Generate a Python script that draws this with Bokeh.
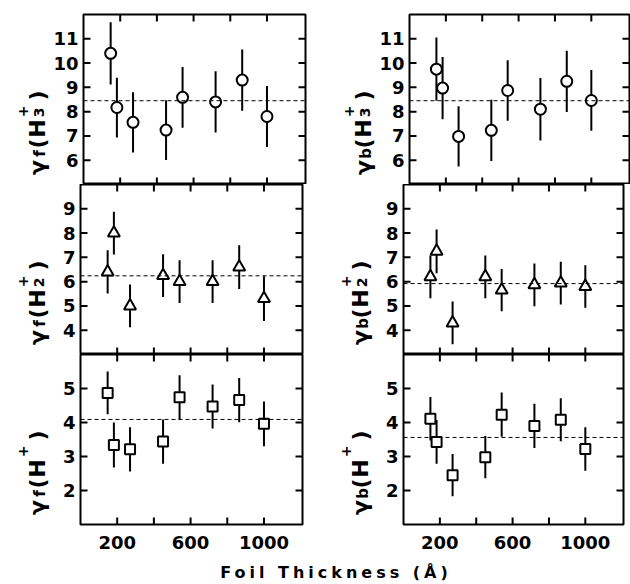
import math
from bokeh.plotting import figure
from bokeh.models import Label, FixedTicker, LinearAxis, Span, Div, Range1d, ColumnDataSource
from bokeh.layouts import column, row
from bokeh.embed import file_html
from bokeh.resources import INLINE

# ---------------- data ----------------
thickness = [148, 182, 270, 450, 540, 720, 865, 1000]   # Foil thickness (Å)

gf_h3 = [10.4, 8.17, 7.56, 7.24, 8.59, 8.4, 9.3, 7.8]
gf_h3_err = [1.28, 1.23, 1.24, 1.23, 1.25, 1.26, 1.26, 1.26]
gb_h3 = [9.75, 8.97, 6.98, 7.23, 8.87, 8.1, 9.25, 8.46]
gb_h3_err = [1.30, 1.28, 1.24, 1.26, 1.25, 1.29, 1.26, 1.25]

gf_h2 = [6.4, 8.0, 5.0, 6.25, 6.0, 6.0, 6.6, 5.3]
gf_h2_err = [0.89, 0.88, 0.88, 0.88, 0.88, 0.88, 0.90, 0.92]
gb_h2 = [6.2, 7.25, 4.3, 6.2, 5.65, 5.87, 5.94, 5.8]
gb_h2_err = [0.88, 0.90, 0.88, 0.88, 0.87, 0.88, 0.88, 0.88]

gf_h1 = [4.87, 3.34, 3.21, 3.44, 4.74, 4.47, 4.66, 3.96]
gf_h1_err = [0.63, 0.66, 0.65, 0.65, 0.65, 0.65, 0.65, 0.66]
gb_h1 = [4.11, 3.43, 2.45, 2.98, 4.23, 3.90, 4.08, 3.22]
gb_h1_err = [0.64, 0.64, 0.62, 0.62, 0.65, 0.65, 0.63, 0.64]

mean_f_h3, mean_b_h3 = 8.45, 8.45
mean_f_h2, mean_b_h2 = 6.24, 5.92
mean_f_h1, mean_b_h1 = 4.09, 3.56

x_ticks = [200, 600, 1000]
x_minor_ticks = [400, 800]
x_title = "Foil Thickness (Å)"

FONT = "DejaVu Sans"
FRAME_H = 170
TOP = 14
BOTTOM = 35


def label_axis(ticks, standoff):
    ax = LinearAxis(ticker=FixedTicker(ticks=ticks, minor_ticks=[]))
    ax.axis_line_color = None
    ax.major_tick_in = 0
    ax.major_tick_out = 0
    ax.minor_tick_in = 0
    ax.minor_tick_out = 0
    ax.major_label_text_font = FONT
    ax.major_label_text_font_style = "bold"
    ax.major_label_text_font_size = "18px"
    ax.major_label_text_color = "black"
    ax.major_label_standoff = standoff
    return ax


def make_panel(col, rw, yr, yticks, ys, errs, mean, marker, msize):
    fw = 222 if col == 0 else 220
    xr = (0, 1210)
    p = figure(frame_width=fw, frame_height=FRAME_H,
               x_range=Range1d(*xr), y_range=Range1d(*yr),
               min_border_left=30, min_border_right=21 if col == 0 else 2,
               min_border_top=TOP if rw == 0 else 0,
               min_border_bottom=BOTTOM if rw == 2 else 0,
               toolbar_location=None, output_backend="svg",
               x_axis_location=None, y_axis_location=None)
    p.grid.visible = False
    p.outline_line_color = "black"
    p.outline_line_width = 2
    p.background_fill_color = "white"
    p.border_fill_color = "white"

    p.add_layout(label_axis(yticks, 5), "left")
    if rw == 2:
        p.add_layout(label_axis(x_ticks, 11), "below")

    # inward tick marks on all four sides (dash markers clipped by the frame)
    xt = x_ticks + x_minor_ticks
    tk = dict(marker="dash", size=14, line_width=2, line_color="black")
    p.scatter(x=xt, y=[yr[0]] * len(xt), angle=math.pi / 2, **tk)
    p.scatter(x=xt, y=[yr[1]] * len(xt), angle=math.pi / 2, **tk)
    p.scatter(x=[xr[0]] * len(yticks), y=yticks, **tk)
    p.scatter(x=[xr[1]] * len(yticks), y=yticks, **tk)

    p.add_layout(Span(location=mean, dimension="width", line_dash="4 3",
                      line_width=1, line_color="black"))

    src = ColumnDataSource(dict(
        x=thickness, y=ys,
        lo=[v - e for v, e in zip(ys, errs)],
        hi=[v + e for v, e in zip(ys, errs)]))
    p.segment(x0="x", y0="lo", x1="x", y1="hi", source=src,
              line_width=2, line_color="black")
    p.scatter(x="x", y="y", source=src, marker=marker, size=msize,
              fill_color="white", line_color="black", line_width=2)
    return p


def make_label(rw, sym_sub, ion_sub):
    """Narrow figure holding the rotated composite label  γ_sym(H_ion^+)."""
    w = 50
    p = figure(frame_width=w, frame_height=FRAME_H,
               x_range=Range1d(0, w), y_range=Range1d(0, FRAME_H),
               min_border_left=0, min_border_right=0,
               min_border_top=TOP if rw == 0 else 0,
               min_border_bottom=BOTTOM if rw == 2 else 0,
               toolbar_location=None, output_backend="svg",
               x_axis_location=None, y_axis_location=None)
    p.grid.visible = False
    p.outline_line_color = None
    p.background_fill_color = "white"
    p.border_fill_color = "white"
    base = 37
    pieces = [
        (")", 81, 0, "22px"),
        ("+", 97, -15, "14px"),
        ("H", 114, 0, "22px"),
        ("(", 129, 0, "22px"),
        (sym_sub, 139, 2, "15px"),
        ("γ", 153, 0, "22px"),
    ]
    if ion_sub:
        pieces.append((ion_sub, 98, 1, "14px"))
    for txt, off, dx, fs in pieces:
        p.add_layout(Label(x=base + dx, y=FRAME_H - off, x_units="data", y_units="data",
                           angle=math.pi / 2,
                           text=txt, text_align="center", text_baseline="alphabetic",
                           text_font=FONT, text_font_style="bold",
                           text_font_size=fs, text_color="black"))
    return p


rows = []
specs = [
    ((5, 12), [6, 7, 8, 9, 10, 11], (gf_h3, gf_h3_err, mean_f_h3), (gb_h3, gb_h3_err, mean_b_h3), "circle", 11, "3"),
    ((3, 10), [4, 5, 6, 7, 8, 9], (gf_h2, gf_h2_err, mean_f_h2), (gb_h2, gb_h2_err, mean_b_h2), "triangle", 12, "2"),
    ((1, 6), [2, 3, 4, 5], (gf_h1, gf_h1_err, mean_f_h1), (gb_h1, gb_h1_err, mean_b_h1), "square", 10, ""),
]
for rw, (yr, yt, fdat, bdat, mk, ms, ion) in enumerate(specs):
    lf = make_label(rw, "f", ion)
    pf = make_panel(0, rw, yr, yt, fdat[0], fdat[1], fdat[2], mk, ms)
    lb = make_label(rw, "b", ion)
    pb = make_panel(1, rw, yr, yt, bdat[0], bdat[1], bdat[2], mk, ms)
    rows.append(row(lf, pf, lb, pb))

title = Div(text=('<div style="width:630px;box-sizing:border-box;padding-left:32px;'
                  'text-align:center;font-family:\'DejaVu Sans\';font-weight:bold;'
                  'font-size:16px;line-height:18px;letter-spacing:4px;color:black;">'
                  + x_title + '</div>'),
            width=630, height=18)

layout = column(*rows, title)

with open("out.html", "w") as f:
    f.write(file_html(layout, INLINE))
